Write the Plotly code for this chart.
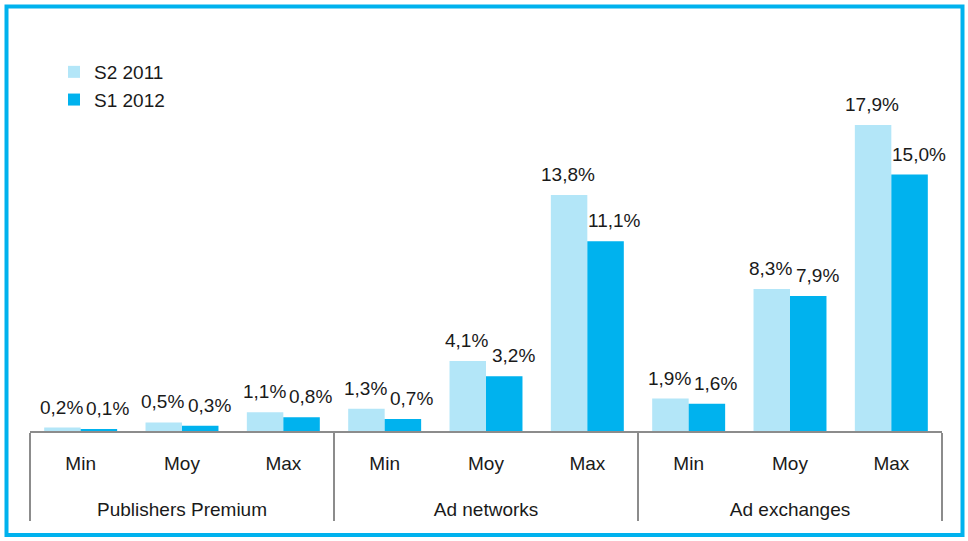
import plotly.graph_objects as go

group_names = ["Publishers Premium", "Ad networks", "Ad exchanges"]
stat_names = ["Min", "Moy", "Max"]
groups = [g for g in group_names for _ in stat_names]
stats = stat_names * 3
s2_2011 = [0.2, 0.5, 1.1, 1.3, 4.1, 13.8, 1.9, 8.3, 17.9]
s1_2012 = [0.1, 0.3, 0.8, 0.7, 3.2, 11.1, 1.6, 7.9, 15.0]

FONT = "Liberation Sans, Arial, sans-serif"
LIGHT = "#B3E6F8"
DARK = "#00B2EE"
FS = 19          # visible text size
TICK_FS = 24     # axis font size (only drives the line spacing between the two levels)
BARGAP = 0.28

def sized(t):
    return "<span style='font-size:%dpx'>%s</span>" % (FS, t)

stat_labels = [sized(s) for s in stats]
group_labels = ["<br>" + sized(g) for g in groups]

fig = go.Figure()
series = [("S2 2011", s2_2011, LIGHT), ("S1 2012", s1_2012, DARK)]
for name, vals, col in series:
    fig.add_trace(go.Bar(
        x=[group_labels, stat_labels], y=vals, name=name,
        marker=dict(color=col, line=dict(width=0)),
        hoverinfo="skip",
    ))

# value labels, placed on a linear twin of the category axis at each bar's centre
bar_w = (1 - BARGAP) / len(series)
annotations = []
for k, (name, vals, col) in enumerate(series):
    offset = (k - (len(series) - 1) / 2) * bar_w
    shift = -1 if k == 0 else 9
    for i, v in enumerate(vals):
        annotations.append(dict(
            x=i + offset, y=v, xref="x2", yref="y",
            text=("%.1f%%" % v).replace(".", ","), showarrow=False,
            xanchor="center", yanchor="bottom", xshift=shift, yshift=9,
            borderpad=0, font=dict(family=FONT, size=FS, color="#1a1a1a"),
        ))

W, H = 968, 541
ml, mr, mt, mb = 30, 26, 89, 110
pw, ph = W - ml - mr, H - mt - mb

def px2paper_x(p):
    return (p - ml) / pw

def px2paper_y(p):
    return (H - mb - p) / ph

fig.update_layout(
    width=W, height=H,
    margin=dict(l=ml, r=mr, t=mt, b=mb),
    paper_bgcolor="white", plot_bgcolor="white",
    separators=", ",
    barmode="group", bargap=BARGAP, bargroupgap=0,
    font=dict(family=FONT, size=FS, color="#1a1a1a"),
    showlegend=True,
    legend=dict(x=px2paper_x(54), y=px2paper_y(53), xanchor="left", yanchor="top",
                font=dict(family=FONT, size=FS, color="#1a1a1a"),
                bgcolor="rgba(0,0,0,0)", tracegroupgap=0),
    xaxis=dict(
        type="multicategory", showline=True, linecolor="#8c8c8c", linewidth=2,
        ticks="", showgrid=False, showdividers=True, dividercolor="#8c8c8c",
        dividerwidth=2, tickfont=dict(family=FONT, size=TICK_FS, color="#1a1a1a"),
        ticklabelstandoff=8, automargin=False,
    ),
    xaxis2=dict(overlaying="x", range=[-0.5, len(stats) - 0.5], visible=False,
                showgrid=False, zeroline=False),
    yaxis=dict(range=[0, 20], visible=False, showgrid=False, zeroline=False,
               automargin=False),
    annotations=annotations,
    shapes=[dict(
        type="rect", xref="paper", yref="paper",
        x0=px2paper_x(6.5), x1=px2paper_x(962.5),
        y0=px2paper_y(535), y1=px2paper_y(6.5),
        line=dict(color="#00B2EE", width=4), fillcolor="rgba(0,0,0,0)", layer="below",
    )],
)

fig.write_html("out.html", config={"displayModeBar": False},
               post_script="document.body.style.margin='0';")
